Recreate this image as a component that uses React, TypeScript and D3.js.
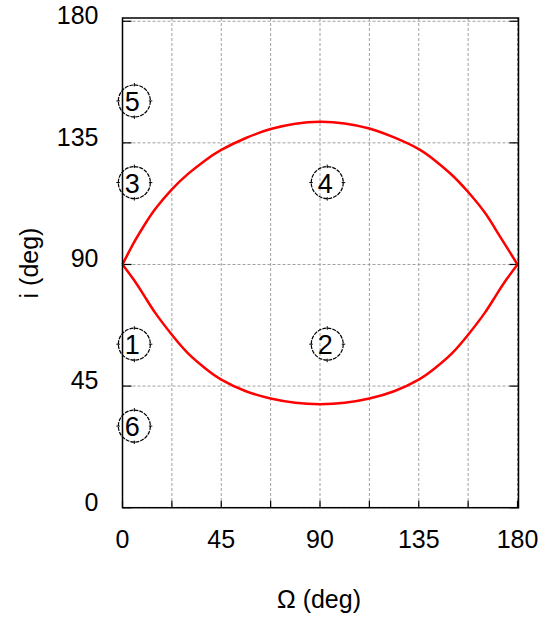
import React, { useEffect, useRef } from 'react';
import * as d3 from 'd3';

// sample points along the two branches (deg)
const omega = [0, 5, 10, 15, 22.5, 30, 37.5, 45, 56.25, 67.5, 78.75, 90, 101.25, 112.5, 123.75, 135, 142.5, 150, 157.5, 165, 170, 175, 180];
const upperI = [90, 97.8, 104.6, 110.6, 117.8, 123.6, 128.4, 132.4, 136.8, 140.1, 142.1, 142.8, 142.2, 140.3, 137, 132.7, 128.4, 123.2, 116.8, 109.3, 103, 96.5, 90];
const lowerI = [90, 84.5, 78.3, 72, 64, 57, 51.7, 47.4, 43.1, 40.4, 38.8, 38.3, 38.8, 40.4, 43.1, 47.4, 51.7, 57, 64, 72, 78.3, 84.5, 90];

// circled region labels
const labelOmega = [5.4, 5.4, 93.3, 5.4, 93.3, 5.4];
const labelI = [150.5, 120.3, 120.3, 60.5, 60.5, 30.2];
const labelText = ['5', '3', '4', '1', '2', '6'];

const xTicks = [0, 45, 90, 135, 180];
const xMinor = [22.5, 67.5, 112.5, 157.5];
const yTicks = [0, 45, 90, 135, 180];

export default function App() {
  const ref = useRef<SVGSVGElement>(null);

  useEffect(() => {
    const svg = d3.select(ref.current);
    svg.selectAll('*').remove();
    const font = '"Liberation Sans", Arial, sans-serif';

    const left = 122.5, right = 518.5, top = 18, bottom = 507.7;
    const x = d3.scaleLinear().domain([0, 180.45]).range([left, right]);
    const y = d3.scaleLinear().domain([0, 181.2]).range([bottom, top]);

    // grid
    const grid = svg.append('g')
      .attr('stroke', '#a0a0a0')
      .attr('stroke-width', 1)
      .attr('stroke-dasharray', '3,2');
    [...xTicks, ...xMinor].forEach(v => {
      grid.append('line')
        .attr('x1', x(v)).attr('x2', x(v))
        .attr('y1', top).attr('y2', bottom);
    });
    yTicks.forEach(v => {
      grid.append('line')
        .attr('x1', left).attr('x2', right)
        .attr('y1', y(v)).attr('y2', y(v));
    });

    // tick marks
    const ticks = svg.append('g').attr('stroke', '#000').attr('stroke-width', 1.2);
    [...xTicks, ...xMinor].forEach(v => {
      ticks.append('line')
        .attr('x1', x(v)).attr('x2', x(v))
        .attr('y1', bottom).attr('y2', bottom - 7);
    });
    yTicks.forEach(v => {
      ticks.append('line').attr('x1', left).attr('x2', left + 9).attr('y1', y(v)).attr('y2', y(v));
      ticks.append('line').attr('x1', right).attr('x2', right - 9).attr('y1', y(v)).attr('y2', y(v));
    });

    // curves
    const line = d3.line<number>()
      .x((d, k) => x(omega[k]))
      .y(d => y(d))
      .curve(d3.curveNatural);
    [upperI, lowerI].forEach(series => {
      svg.append('path')
        .datum(series)
        .attr('fill', 'none')
        .attr('stroke', '#ff0000')
        .attr('stroke-width', 2.5)
        .attr('d', line);
    });

    // frame
    svg.append('rect')
      .attr('x', left).attr('y', top)
      .attr('width', right - left).attr('height', bottom - top)
      .attr('fill', 'none')
      .attr('stroke', '#000')
      .attr('stroke-width', 1.5);

    // axis labels
    svg.append('g').selectAll('text')
      .data(xTicks)
      .join('text')
      .attr('x', d => x(d))
      .attr('y', 548)
      .attr('text-anchor', 'middle')
      .style('font-family', font)
      .style('font-size', '25px')
      .text(d => d);
    svg.append('g').selectAll('text')
      .data(yTicks)
      .join('text')
      .attr('x', 98.5)
      .attr('y', d => y(d) + 3)
      .attr('text-anchor', 'end')
      .style('font-family', font)
      .style('font-size', '25px')
      .text(d => d);

    svg.append('text')
      .attr('x', 319).attr('y', 608)
      .attr('text-anchor', 'middle')
      .style('font-family', font)
      .style('font-size', '25px')
      .text('Ω (deg)');
    svg.append('text')
      .attr('transform', 'translate(38,263) rotate(-90)')
      .attr('text-anchor', 'middle')
      .style('font-family', font)
      .style('font-size', '25px')
      .text('i (deg)');

    // circled numbers
    labelText.forEach((t, k) => {
      const cx = x(labelOmega[k]), cy = y(labelI[k]);
      const g = svg.append('g');
      g.append('circle')
        .attr('cx', cx).attr('cy', cy).attr('r', 16)
        .attr('fill', 'none')
        .attr('stroke', '#000')
        .attr('stroke-width', 1.2)
        .attr('stroke-dasharray', '4,1');
      [[0, -1], [0, 1], [-1, 0], [1, 0]].forEach(([dx, dy]) => {
        g.append('line')
          .attr('x1', cx + dx * 14.5).attr('y1', cy + dy * 14.5)
          .attr('x2', cx + dx * 18).attr('y2', cy + dy * 18)
          .attr('stroke', '#000').attr('stroke-width', 1);
      });
      g.append('text')
        .attr('x', cx - 2).attr('y', cy + 10)
        .attr('text-anchor', 'middle')
        .style('font-family', font)
        .style('font-size', '27px')
        .text(t);
    });
  }, []);

  return (
    <svg ref={ref} width={558} height={619}
      style={{ position: 'absolute', left: 0, top: 0, background: '#fff' }} />
  );
}
